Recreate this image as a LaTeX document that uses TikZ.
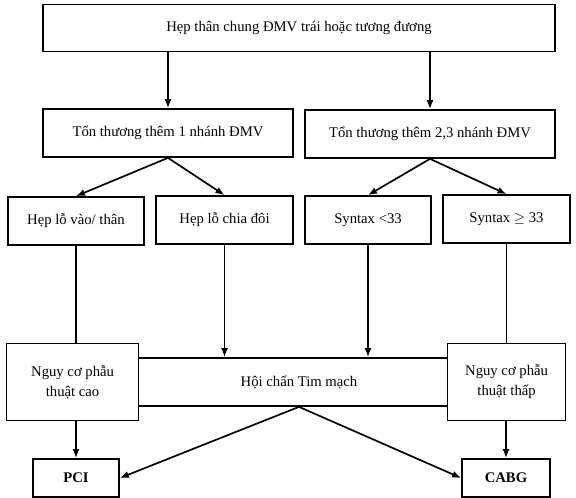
\documentclass[tikz,border=0pt]{standalone}
\usepackage{fontspec}
\setmainfont{Liberation Serif}
\usetikzlibrary{arrows.meta}
\begin{document}
\begin{tikzpicture}[x=1pt,y=-1pt,line width=1.7pt,>={Latex[length=9pt,width=7pt]},
  box/.style={draw,fill=white,inner sep=2pt,align=center,font=\fontsize{14.7}{20}\selectfont}]
  \useasboundingbox (0,0) rectangle (576,498);

  \node[box,minimum width=512,minimum height=47] (top) at (299,28) {Hẹp thân chung ĐMV trái hoặc tương đương};

  \node[box,minimum width=250,minimum height=48] (one) at (168,133) {Tổn thương thêm 1 nhánh ĐMV};
  \node[box,minimum width=250,minimum height=48] (two) at (430,134) {Tổn thương thêm 2,3 nhánh ĐMV};

  \node[box,minimum width=136,minimum height=48] (ostial) at (76,221) {Hẹp lỗ vào/ thân};
  \node[box,minimum width=137,minimum height=48] (bifur) at (224.5,220) {Hẹp lỗ chia đôi};
  \node[box,minimum width=126,minimum height=48] (synlow) at (368,220) {Syntax <33};
  \node[box,minimum width=127,minimum height=48] (synhigh) at (506.5,219) {Syntax $\geq$ 33};

  \node[box,minimum width=321,minimum height=48] (heart) at (299,382) {Hội chẩn Tim mạch};
  \node[box,minimum width=132,minimum height=77] (riskhi) at (72.6,382) {Nguy cơ phẫu\\thuật cao};
  \node[box,minimum width=118,minimum height=77] (risklo) at (506.6,382) {Nguy cơ phẫu\\thuật thấp};

  \node[box,minimum width=86,minimum height=38,font=\fontsize{14.7}{20}\selectfont\bfseries] (pci) at (76,478) {PCI};
  \node[box,minimum width=88,minimum height=38,font=\fontsize{14.7}{20}\selectfont\bfseries] (cabg) at (506,478) {CABG};

  \draw[->] (one.north |- top.south) -- (one.north);
  \draw[->] (two.north |- top.south) -- (two.north);

  \draw[->] (one.south) -- (ostial.north);
  \draw[->] (one.south) -- (bifur.north);
  \draw[->] (two.south) -- (synlow.north);
  \draw[->] (two.south) -- (synhigh.north);

  \draw (ostial.south) -- (ostial.south |- riskhi.north);
  \draw[->] (bifur.south) -- (bifur.south |- heart.north);
  \draw[->] (synlow.south) -- (synlow.south |- heart.north);
  \draw (synhigh.south) -- (synhigh.south |- risklo.north);

  \draw[->] (pci.north |- riskhi.south) -- (pci.north);
  \draw[->] (cabg.north |- risklo.south) -- (cabg.north);
  \draw[->] (heart.south) -- (pci.east);
  \draw[->] (heart.south) -- (cabg.west);
\end{tikzpicture}
\end{document}
